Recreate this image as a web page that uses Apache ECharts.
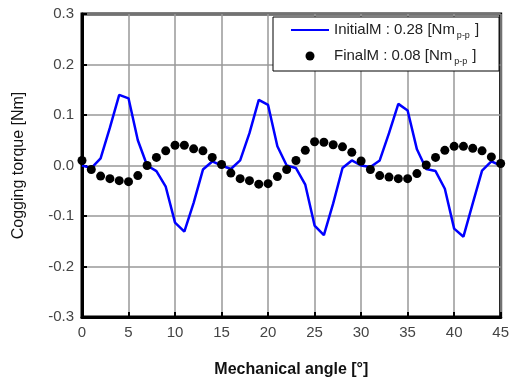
<!DOCTYPE html>
<html>
<head>
<meta charset="utf-8">
<script src="https://cdn.jsdelivr.net/npm/echarts@6/dist/echarts.min.js"></script>
<style>
  html, body { margin: 0; padding: 0; background: #fff; }
  #chart { width: 512px; height: 383px; }
</style>
</head>
<body>
<div id="chart"></div>
<script>
// Mechanical angle in degrees (one sample per degree)
const angles = [0,1,2,3,4,5,6,7,8,9,10,11,12,13,14,15,16,17,18,19,20,21,22,23,24,25,26,27,28,29,30,31,32,33,34,35,36,37,38,39,40,41,42,43,44,45];

// Cogging torque [Nm], initial model
const initialTorque = [0.000,-0.005,0.014,0.075,0.140,0.133,0.050,0.000,-0.011,-0.042,-0.113,-0.131,-0.074,-0.008,0.008,0.000,
  -0.007,0.010,0.064,0.130,0.120,0.038,0.000,-0.005,-0.038,-0.119,-0.138,-0.075,-0.005,0.010,0.000,
  -0.003,0.010,0.064,0.122,0.109,0.032,-0.007,-0.011,-0.046,-0.125,-0.141,-0.075,-0.010,0.008,0.000];

// Cogging torque [Nm], final model
const finalTorque = [0.010,-0.008,-0.021,-0.026,-0.030,-0.032,-0.020,0.000,0.016,0.029,0.040,0.040,0.033,0.029,0.016,0.002,
  -0.015,-0.026,-0.030,-0.037,-0.036,-0.022,-0.008,0.010,0.030,0.047,0.046,0.041,0.037,0.026,0.009,
  -0.008,-0.020,-0.023,-0.026,-0.026,-0.016,0.001,0.016,0.030,0.038,0.038,0.034,0.029,0.017,0.004];

// Legend entries and their peak-to-peak values
const seriesNames = ['InitialM', 'FinalM'];
const peakToPeak = ['0.28', '0.08'];

const xTitle = 'Mechanical angle [°]';
const yTitle = 'Cogging torque [Nm]';

const font = 'Liberation Sans, Arial, sans-serif';

const pair = (ys) => angles.map((a, i) => [a, ys[i]]);

const chart = echarts.init(document.getElementById('chart'), null, { renderer: 'canvas' });

chart.setOption({
  animation: false,
  backgroundColor: '#fff',
  textStyle: { fontFamily: font },
  grid: {
    left: 82, right: 9, top: 14, bottom: 59,
    show: true, borderColor: '#000', borderWidth: 3
  },
  xAxis: {
    type: 'value', min: 0, max: 45, interval: 5,
    name: xTitle, nameLocation: 'middle', nameGap: 45,
    nameTextStyle: { fontFamily: font, fontSize: 16, fontWeight: 'bold', color: '#111' },
    axisLine: { show: true, onZero: false, lineStyle: { color: '#000', width: 3 } },
    axisTick: { show: true, inside: true, length: 5, lineStyle: { color: '#000', width: 2 } },
    axisLabel: { fontFamily: font, fontSize: 15, color: '#444', margin: 8 },
    splitLine: { show: true, lineStyle: { color: '#999', width: 1.5 } }
  },
  yAxis: {
    type: 'value', min: -0.3, max: 0.3, interval: 0.1,
    name: yTitle, nameLocation: 'middle', nameGap: 55, nameRotate: 90,
    nameTextStyle: { fontFamily: font, fontSize: 16, fontWeight: 'normal', color: '#111' },
    axisLine: { show: true, onZero: false, lineStyle: { color: '#000', width: 3 } },
    axisTick: { show: true, inside: true, length: 5, lineStyle: { color: '#000', width: 2 } },
    axisLabel: {
      fontFamily: font, fontSize: 15, color: '#444', margin: 8,
      formatter: (v) => (Math.abs(v) < 1e-9 ? 0 : v).toFixed(1)
    },
    splitLine: { show: true, lineStyle: { color: '#999', width: 1.5 } }
  },
  legend: {
    orient: 'vertical',
    left: 273, top: 17,
    padding: [3, 20, 5, 17],
    itemGap: 6,
    itemWidth: 38, itemHeight: 9,
    backgroundColor: '#fff',
    borderColor: '#000', borderWidth: 1,
    data: [
      { name: seriesNames[0], itemStyle: { opacity: 0 } },
      { name: seriesNames[1], icon: 'circle' }
    ],
    formatter: (name) => {
      const i = seriesNames.indexOf(name);
      return '{t|' + name + ' : ' + peakToPeak[i] + ' [Nm}{s|p-p}{t|]}';
    },
    textStyle: {
      fontFamily: font,
      rich: {
        t: { fontFamily: font, fontSize: 15, color: '#222', lineHeight: 22 },
        s: { fontFamily: font, fontSize: 9, color: '#222', padding: [11, 5, 0, 2], lineHeight: 22 }
      }
    }
  },
  series: [
    {
      name: seriesNames[0],
      type: 'line',
      data: pair(initialTorque),
      symbol: 'none',
      lineStyle: { color: '#0000ff', width: 2.5 },
      itemStyle: { color: '#0000ff' },
      z: 3
    },
    {
      name: seriesNames[1],
      type: 'scatter',
      data: pair(finalTorque),
      symbol: 'circle',
      symbolSize: 9,
      itemStyle: { color: '#000', opacity: 1 },
      z: 4
    }
  ]
});
</script>
</body>
</html>
